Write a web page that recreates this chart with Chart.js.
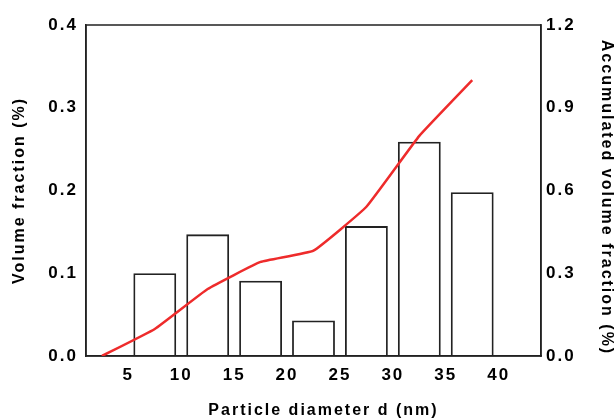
<!DOCTYPE html>
<html>
<head>
<meta charset="utf-8">
<script src="https://cdn.jsdelivr.net/npm/chart.js@4"></script>
<style>
  body { margin: 0; background: #fff; }
  #wrap { width: 616px; height: 420px; }
</style>
</head>
<body>
<div id="wrap"><canvas id="sizeChart" width="616" height="420"></canvas></div>
<script>
// bin centres (nm) and volume fraction per bin
const binCenters = [7.5, 12.5, 17.5, 22.5, 27.5, 32.5, 37.5];
const volumeFraction = [0.100, 0.147, 0.091, 0.043, 0.157, 0.259, 0.198];

// accumulated curve
const accX = [2.5, 7.5, 12.5, 17.5, 22.5, 27.5, 32.5, 37.5];
const accY = [0, 0.098, 0.243, 0.341, 0.382, 0.541, 0.798, 1.0];

const xTicks = [5, 10, 15, 20, 25, 30, 35, 40];
const leftTicks = [0, 0.1, 0.2, 0.3, 0.4];
const rightTicks = [0, 0.3, 0.6, 0.9, 1.2];

const font = 'Liberation Sans, Arial, Helvetica, sans-serif';

// move a scale title a bit (the original titles are not centred on the axis)
function nudgeTitle(scale, dx, dy) {
    if (!scale || scale._origDrawTitle) return;
    scale._origDrawTitle = scale.drawTitle;
    scale.drawTitle = function () {
        this.ctx.save();
        this.ctx.translate(dx, dy);
        this._origDrawTitle();
        this.ctx.restore();
    };
}

// letter spacing + frame round the plot
const framePlugin = {
    id: 'frame',
    beforeDraw(chart) {
        chart.ctx.letterSpacing = '2px';
        nudgeTitle(chart.scales.y2, 0, 7);
        nudgeTitle(chart.scales.x, 10, 0);
    },
    beforeDatasetsDraw(chart) {
        const a = chart.chartArea;
        const ctx = chart.ctx;
        ctx.save();
        ctx.strokeStyle = '#222';
        ctx.lineWidth = 1.5;
        ctx.strokeRect(a.left, a.top, a.right - a.left, a.bottom - a.top);
        ctx.restore();
    }
};

const ctx = document.getElementById('sizeChart').getContext('2d');
const chart = new Chart(ctx, {
    type: 'bar',
    data: {
        datasets: [{
            type: 'line',
            label: 'Accumulated',
            data: accX.map((x, i) => ({ x: x, y: accY[i] })),
            xAxisID: 'x',
            yAxisID: 'y2',
            borderColor: '#ee2b2b',
            borderWidth: 2.5,
            pointRadius: 0,
            tension: 0.1,
            fill: false,
            order: 0
        }, {
            label: 'Volume fraction',
            data: binCenters.map((x, i) => ({ x: x, y: volumeFraction[i] })),
            xAxisID: 'x',
            yAxisID: 'y',
            backgroundColor: 'rgba(255,255,255,0)',
            borderColor: '#222',
            borderWidth: 1.8,
            categoryPercentage: 1,
            barPercentage: 0.81,
            order: 1
        }]
    },
    options: {
        responsive: false,
        animation: false,
        layout: { padding: { left: 0, right: 0, top: 25, bottom: 0 } },
        plugins: {
            legend: { display: false },
            tooltip: { enabled: false }
        },
        scales: {
            x: {
                type: 'linear',
                position: 'bottom',
                min: 1,
                max: 44,
                offset: false,
                grid: { display: false, drawTicks: false },
                border: { color: '#222', width: 1.5 },
                afterBuildTicks: s => { s.ticks = xTicks.map(v => ({ value: v })); },
                afterFit: s => { s.height = 64; },
                ticks: {
                    color: '#000',
                    padding: 9,
                    font: { family: font, size: 17, weight: 'bold' },
                    callback: v => String(v)
                },
                title: {
                    display: true,
                    text: 'Particle diameter d (nm)',
                    color: '#000',
                    padding: { top: 0, bottom: 0 },
                    font: { family: font, size: 16, weight: 'bold' }
                }
            },
            y: {
                position: 'left',
                min: 0,
                max: 0.4,
                grid: { display: false, drawTicks: false },
                border: { color: '#222', width: 1.5 },
                afterBuildTicks: s => { s.ticks = leftTicks.map(v => ({ value: v })); },
                afterFit: s => { s.width = 86; },
                ticks: {
                    color: '#000',
                    padding: 8,
                    font: { family: font, size: 17, weight: 'bold' },
                    callback: v => v.toFixed(1)
                },
                title: {
                    display: true,
                    text: 'Volume fraction (%)',
                    color: '#000',
                    padding: { top: 10, bottom: 0 },
                    font: { family: font, size: 16, weight: 'bold' }
                }
            },
            y2: {
                position: 'right',
                min: 0,
                max: 1.2,
                grid: { display: false, drawTicks: false },
                border: { color: '#222', width: 1.5 },
                afterBuildTicks: s => { s.ticks = rightTicks.map(v => ({ value: v })); },
                afterFit: s => { s.width = 75; },
                ticks: {
                    color: '#000',
                    padding: 5,
                    font: { family: font, size: 17, weight: 'bold' },
                    callback: v => v.toFixed(1)
                },
                title: {
                    display: true,
                    text: 'Accumulated volume fraction (%)',
                    color: '#000',
                    padding: { top: 0, bottom: 0 },
                    font: { family: font, size: 16, weight: 'bold' }
                }
            }
        }
    },
    plugins: [framePlugin]
});
</script>
</body>
</html>
